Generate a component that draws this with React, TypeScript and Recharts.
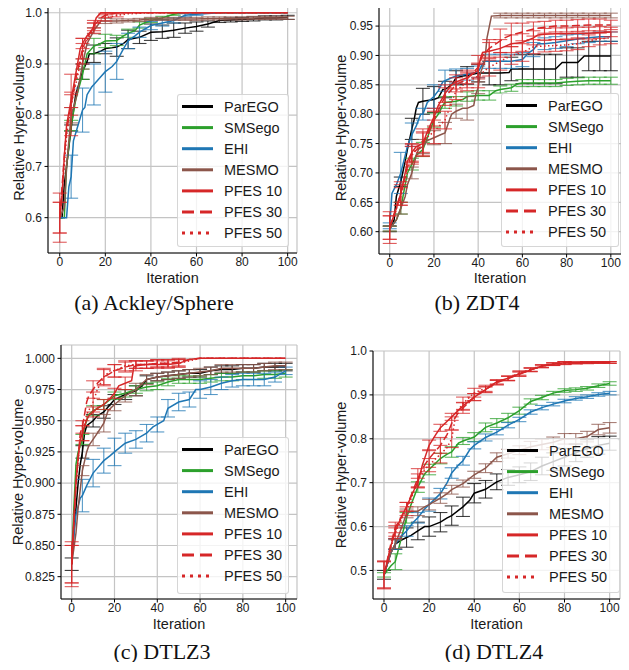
import React from "react";
import { LineChart, Line, XAxis, YAxis, CartesianGrid, ErrorBar, Label } from "recharts";

// [iteration, mean relative hyper-volume, error half-height (optional)]
type Pt = [number, number, number?];

// ---------- (a) Ackley/Sphere ----------
const A_PAREGO: Pt[] = [[0,0.6],[1,0.6],[2,0.665],[3,0.7],[5,0.775,0.006],[7,0.84],[9,0.87],[10,0.885,0.015],[12,0.905],[13,0.92],[15,0.92,0.017],[18,0.925],[20,0.93,0.01],[25,0.933,0.018],[28,0.94],[30,0.948,0.018],[35,0.952,0.012],[40,0.962,0.016],[45,0.963,0.013],[50,0.966,0.014],[55,0.97,0.01],[60,0.973,0.009],[65,0.978,0.006],[70,0.985,0.004],[75,0.986,0.004],[80,0.987,0.004],[85,0.988,0.004],[90,0.99,0.004],[95,0.99,0.004],[100,0.991,0.004]];
const A_SMSEGO: Pt[] = [[0,0.6],[2,0.6],[3,0.7],[5,0.78,0.01],[7,0.83],[10,0.88,0.01],[12,0.92],[15,0.935,0.015],[18,0.94],[20,0.945,0.013],[25,0.946,0.01],[28,0.955],[30,0.96,0.008],[33,0.965],[35,0.976,0.006],[40,0.985,0.004],[45,0.99,0.003],[50,0.997,0.002],[55,1.0],[100,1.0]];
const A_EHI: Pt[] = [[0,0.6],[3,0.6],[4,0.66],[5,0.68,0.042],[6,0.75],[8,0.78],[10,0.81,0.043],[11,0.815],[12,0.84],[14,0.855],[15,0.86,0.04],[18,0.875],[20,0.885,0.04],[23,0.895],[25,0.905,0.035],[28,0.93],[30,0.945,0.015],[33,0.955],[35,0.962,0.01],[40,0.975,0.008],[45,0.98,0.006],[50,0.985,0.005],[55,0.995,0.003],[60,0.997,0.002],[70,1.0],[100,1.0]];
const A_MESMO: Pt[] = [[0,0.6],[2,0.62],[3,0.7],[5,0.8,0.015],[7,0.83],[8,0.85],[10,0.9,0.01],[12,0.94],[15,0.965,0.006],[18,0.984],[20,0.984,0.005],[25,0.984,0.004],[30,0.985,0.003],[35,0.986,0.003],[40,0.988,0.003],[45,0.988,0.003],[50,0.988,0.003],[55,0.988,0.003],[60,0.988,0.003],[65,0.989,0.003],[70,0.989,0.003],[75,0.989,0.003],[80,0.989,0.003],[85,0.99,0.003],[90,0.99,0.003],[95,0.99,0.003],[100,0.99,0.003]];
const A_PFES10: Pt[] = [[0,0.6,0.048],[1,0.64],[2,0.72],[3,0.78],[5,0.83,0.015],[7,0.88],[9,0.93],[10,0.94,0.01],[12,0.955],[14,0.965],[15,0.975,0.005],[16,0.99],[18,1.0],[100,1.0]];
const A_PFES30: Pt[] = [[0,0.6,0.03],[2,0.72],[3,0.77],[5,0.82,0.06],[7,0.87],[10,0.93,0.02],[12,0.95],[15,0.975,0.01],[18,0.99],[20,0.995,0.004],[25,1.0],[100,1.0]];
const A_PFES50: Pt[] = [[0,0.6,0.03],[2,0.7],[3,0.76],[5,0.82,0.02],[7,0.86],[10,0.92,0.02],[12,0.945],[15,0.97,0.01],[18,0.985],[20,0.99,0.006],[25,0.995,0.003],[30,0.998],[40,1.0],[100,1.0]];

// ---------- (b) ZDT4 ----------
const B_PAREGO: Pt[] = [[0,0.605,0.005],[2,0.62],[3,0.66],[5,0.685,0.008],[7,0.72],[8,0.74],[10,0.775,0.018],[11,0.79],[12,0.81],[13,0.82],[15,0.822,0.022],[20,0.825,0.022],[22,0.828],[24,0.842],[25,0.842,0.014],[28,0.85],[30,0.862,0.012],[33,0.865],[35,0.866,0.015],[40,0.87,0.015],[45,0.87,0.02],[50,0.87,0.02],[54,0.871],[55,0.877,0.02],[60,0.877,0.025],[65,0.877,0.025],[70,0.877,0.025],[75,0.877,0.025],[78,0.888],[80,0.888,0.025],[85,0.888,0.025],[88,0.899],[90,0.899,0.025],[95,0.899,0.025],[100,0.899,0.025]];
const B_SMSEGO: Pt[] = [[0,0.605,0.004],[3,0.62],[5,0.64,0.01],[7,0.68],[8,0.7],[10,0.715,0.01],[12,0.73],[15,0.74,0.012],[17,0.76],[18,0.77],[20,0.79,0.012],[22,0.8],[24,0.815],[25,0.82,0.01],[30,0.822,0.008],[33,0.825],[35,0.83,0.008],[40,0.832,0.008],[45,0.832,0.008],[48,0.84],[50,0.842,0.006],[55,0.845,0.006],[58,0.852],[60,0.853,0.006],[65,0.853,0.006],[70,0.853,0.006],[75,0.853,0.006],[80,0.855,0.006],[85,0.856,0.006],[90,0.857,0.006],[95,0.857,0.006],[100,0.857,0.006]];
const B_EHI: Pt[] = [[0,0.61,0.005],[1,0.665],[3,0.68],[5,0.7,0.035],[7,0.73],[8,0.745],[10,0.765,0.02],[12,0.78],[14,0.8],[15,0.8,0.01],[17,0.82],[20,0.83,0.02],[22,0.84],[24,0.855],[25,0.857,0.018],[28,0.862],[30,0.865,0.012],[35,0.868,0.01],[40,0.872,0.01],[42,0.885],[43,0.89],[45,0.89,0.012],[50,0.89,0.012],[55,0.89,0.012],[60,0.893,0.012],[63,0.905],[65,0.91,0.012],[67,0.92],[70,0.92,0.01],[75,0.922,0.01],[80,0.925,0.01],[85,0.928,0.008],[90,0.93,0.008],[95,0.932,0.008],[100,0.932,0.008]];
const B_MESMO: Pt[] = [[0,0.605,0.004],[3,0.62],[5,0.64,0.01],[7,0.66],[8,0.68],[10,0.7,0.01],[12,0.73],[13,0.74],[15,0.745,0.012],[17,0.755],[20,0.76,0.012],[23,0.765],[25,0.768,0.018],[27,0.79],[28,0.8],[30,0.805,0.012],[33,0.81],[35,0.81,0.02],[38,0.815],[39,0.835],[40,0.845,0.01],[41,0.87],[43,0.89],[44,0.93],[46,0.967],[50,0.968,0.004],[55,0.968,0.004],[60,0.968,0.004],[65,0.968,0.004],[70,0.968,0.004],[75,0.968,0.004],[80,0.968,0.004],[85,0.968,0.004],[90,0.968,0.004],[95,0.968,0.004],[100,0.968,0.004]];
const B_PFES10: Pt[] = [[0,0.607,0.027],[3,0.64],[5,0.665,0.02],[7,0.7],[8,0.72],[10,0.735,0.015],[12,0.745],[15,0.75,0.02],[17,0.77],[20,0.795,0.015],[22,0.815],[25,0.835,0.015],[28,0.85],[30,0.855,0.012],[35,0.862,0.01],[40,0.875,0.012],[41,0.895],[42,0.905],[45,0.907,0.015],[50,0.912,0.015],[55,0.92,0.015],[60,0.922,0.015],[65,0.93,0.012],[67,0.935],[70,0.936,0.01],[75,0.937,0.01],[80,0.937,0.01],[85,0.938,0.01],[90,0.938,0.01],[95,0.939,0.01],[100,0.94,0.008]];
const B_PFES30: Pt[] = [[0,0.607,0.02],[5,0.665,0.015],[8,0.71],[10,0.733,0.015],[15,0.748,0.02],[20,0.79,0.015],[25,0.83,0.015],[30,0.85,0.012],[35,0.86,0.015],[40,0.88,0.02],[42,0.9],[45,0.912,0.015],[50,0.925,0.02],[52,0.93],[55,0.935,0.02],[60,0.94,0.015],[65,0.945,0.012],[70,0.948,0.01],[75,0.95,0.01],[80,0.95,0.01],[85,0.951,0.01],[90,0.952,0.01],[95,0.952,0.01],[100,0.952,0.008]];
const B_PFES50: Pt[] = [[0,0.607,0.02],[5,0.66,0.015],[10,0.73,0.015],[15,0.755,0.02],[20,0.77,0.02],[25,0.79,0.015],[28,0.82],[30,0.84,0.015],[35,0.855,0.015],[40,0.865,0.02],[45,0.88,0.015],[50,0.89,0.015],[55,0.9,0.015],[60,0.905,0.015],[65,0.915,0.012],[70,0.916,0.01],[75,0.917,0.01],[80,0.918,0.01],[85,0.92,0.01],[90,0.925,0.01],[95,0.928,0.01],[100,0.93,0.01]];

// ---------- (c) DTLZ3 ----------
const C_PAREGO: Pt[] = [[0,0.835,0.005],[1,0.86],[2,0.88],[3,0.9],[4,0.915],[5,0.925,0.005],[6,0.94],[7,0.946],[10,0.95,0.005],[12,0.954],[15,0.957,0.005],[18,0.963],[20,0.967,0.004],[25,0.971,0.004],[30,0.974,0.004],[33,0.978],[35,0.983,0.003],[40,0.985,0.003],[45,0.986,0.003],[50,0.987,0.003],[55,0.988,0.003],[60,0.988,0.003],[65,0.99,0.003],[70,0.991,0.003],[75,0.991,0.003],[80,0.992,0.003],[85,0.992,0.003],[90,0.993,0.003],[95,0.993,0.003],[100,0.993,0.003]];
const C_SMSEGO: Pt[] = [[0,0.84],[1,0.88],[2,0.915],[3,0.925],[5,0.935,0.004],[6,0.945],[8,0.955],[10,0.958,0.004],[15,0.963,0.004],[18,0.967],[20,0.97,0.003],[25,0.972,0.003],[30,0.975,0.003],[35,0.977,0.003],[40,0.978,0.003],[45,0.981,0.003],[50,0.983,0.003],[55,0.983,0.003],[60,0.983,0.003],[65,0.984,0.003],[70,0.985,0.003],[75,0.985,0.003],[80,0.986,0.003],[85,0.986,0.003],[90,0.987,0.003],[95,0.987,0.003],[100,0.988,0.003]];
const C_EHI: Pt[] = [[0,0.84],[2,0.875],[4,0.888],[5,0.89,0.013],[7,0.898],[10,0.908,0.011],[12,0.912],[15,0.918,0.01],[18,0.922],[20,0.925,0.011],[25,0.932,0.008],[30,0.935,0.007],[35,0.94,0.007],[38,0.945],[40,0.947,0.006],[43,0.95],[45,0.96,0.007],[50,0.965,0.007],[55,0.967,0.006],[58,0.975],[60,0.975,0.007],[65,0.977,0.006],[70,0.98,0.005],[75,0.982,0.005],[80,0.983,0.005],[85,0.983,0.005],[90,0.983,0.005],[95,0.985,0.004],[100,0.99,0.003]];
const C_MESMO: Pt[] = [[0,0.835],[2,0.86],[3,0.88],[5,0.91,0.004],[7,0.925],[8,0.93],[10,0.935,0.005],[12,0.94],[15,0.948,0.007],[17,0.958],[20,0.963,0.005],[25,0.97,0.005],[30,0.975,0.005],[33,0.98],[35,0.983,0.004],[40,0.985,0.003],[45,0.986,0.003],[50,0.987,0.003],[55,0.988,0.003],[60,0.989,0.003],[65,0.99,0.003],[70,0.992,0.003],[75,0.992,0.003],[80,0.992,0.003],[85,0.992,0.003],[90,0.993,0.003],[95,0.994,0.003],[100,0.994,0.003]];
const C_PFES10: Pt[] = [[0,0.835,0.018],[1,0.87],[2,0.9],[3,0.92],[4,0.935],[5,0.94,0.006],[7,0.951],[8,0.954],[10,0.957,0.004],[12,0.96],[15,0.963,0.004],[18,0.968],[20,0.972,0.004],[22,0.978],[25,0.98,0.005],[28,0.982],[29,0.993],[30,0.994,0.004],[35,0.995,0.003],[40,0.995,0.003],[45,0.995,0.003],[50,0.996,0.003],[55,0.999],[60,1.0],[100,1.0]];
const C_PFES30: Pt[] = [[0,0.835,0.015],[2,0.9],[4,0.94],[5,0.945,0.005],[7,0.965],[8,0.97],[10,0.975,0.007],[12,0.98],[15,0.985,0.006],[18,0.988],[20,0.99,0.005],[25,0.993,0.004],[30,0.995,0.003],[35,0.995,0.003],[40,0.996,0.003],[45,0.996,0.003],[50,0.997,0.003],[55,0.999],[60,1.0],[100,1.0]];
const C_PFES50: Pt[] = [[0,0.835,0.015],[2,0.9],[4,0.935],[5,0.94,0.006],[7,0.955],[10,0.965,0.008],[12,0.975],[15,0.985,0.007],[18,0.99],[20,0.99,0.005],[25,0.994,0.004],[30,0.995,0.003],[35,0.995,0.003],[40,0.996,0.003],[45,0.996,0.003],[50,0.996,0.003],[55,0.998],[60,1.0],[100,1.0]];

// ---------- (d) DTLZ4 ----------
const D_PAREGO: Pt[] = [[0,0.49,0.01],[3,0.54],[5,0.56,0.012],[8,0.57],[10,0.575,0.022],[12,0.58],[15,0.59,0.02],[18,0.6],[20,0.6,0.022],[25,0.61,0.022],[28,0.62],[30,0.625,0.022],[35,0.645,0.022],[38,0.66],[40,0.676,0.022],[45,0.685,0.02],[50,0.702,0.018],[55,0.712,0.018],[60,0.718,0.018],[65,0.725,0.02],[70,0.738,0.02],[75,0.748,0.02],[80,0.758,0.02],[85,0.768,0.02],[90,0.778,0.02],[95,0.785,0.02],[100,0.79,0.016]];
const D_SMSEGO: Pt[] = [[0,0.49,0.005],[3,0.51],[5,0.52,0.018],[7,0.56],[8,0.58],[10,0.62,0.012],[12,0.65],[15,0.69,0.012],[18,0.72],[20,0.73,0.012],[25,0.755,0.012],[28,0.765],[30,0.77,0.012],[33,0.79],[35,0.795,0.008],[40,0.804,0.01],[45,0.826,0.01],[50,0.836,0.01],[55,0.848,0.01],[60,0.864,0.008],[65,0.885,0.006],[70,0.894,0.005],[75,0.904,0.004],[80,0.91,0.004],[85,0.912,0.004],[90,0.915,0.004],[95,0.921,0.004],[100,0.926,0.004]];
const D_EHI: Pt[] = [[0,0.49],[3,0.54],[5,0.56,0.012],[8,0.58],[10,0.59,0.012],[13,0.61],[15,0.62,0.012],[18,0.64],[20,0.65,0.015],[25,0.675,0.012],[28,0.7],[30,0.722,0.012],[33,0.74],[35,0.75,0.01],[38,0.775],[40,0.785,0.008],[45,0.803,0.008],[50,0.815,0.006],[55,0.831,0.006],[60,0.844,0.005],[65,0.861,0.005],[70,0.871,0.005],[75,0.879,0.004],[80,0.886,0.004],[85,0.892,0.004],[90,0.896,0.004],[95,0.901,0.004],[100,0.904,0.004]];
const D_MESMO: Pt[] = [[0,0.49],[3,0.54],[5,0.56,0.01],[8,0.6],[10,0.63,0.01],[12,0.635],[15,0.635,0.01],[18,0.645],[20,0.65,0.012],[25,0.665,0.012],[28,0.675],[30,0.684,0.01],[35,0.698,0.008],[40,0.718,0.008],[45,0.733,0.01],[50,0.758,0.01],[55,0.766,0.01],[60,0.774,0.01],[65,0.782,0.012],[70,0.787,0.012],[75,0.792,0.012],[80,0.8,0.012],[85,0.8,0.012],[90,0.805,0.012],[95,0.821,0.012],[100,0.825,0.012]];
const D_PFES10: Pt[] = [[0,0.49,0.032],[3,0.555],[5,0.59,0.012],[8,0.625],[10,0.645,0.01],[13,0.68],[15,0.7,0.01],[17,0.74],[20,0.785,0.012],[23,0.81],[25,0.825,0.008],[28,0.84],[30,0.85,0.008],[35,0.875,0.008],[40,0.895,0.008],[45,0.912,0.006],[50,0.93,0.005],[55,0.938,0.005],[60,0.948,0.005],[65,0.957,0.004],[70,0.966,0.003],[75,0.97,0.003],[80,0.973,0.003],[85,0.973,0.002],[90,0.973,0.002],[95,0.974,0.002],[100,0.974,0.002]];
const D_PFES30: Pt[] = [[0,0.49,0.03],[3,0.56],[5,0.598,0.012],[8,0.625],[10,0.645,0.01],[15,0.71,0.022],[18,0.74],[20,0.755,0.02],[25,0.785,0.018],[28,0.81],[30,0.835,0.015],[33,0.86],[35,0.87,0.012],[40,0.895,0.008],[45,0.912,0.007],[50,0.928,0.005],[55,0.937,0.005],[60,0.947,0.005],[65,0.957,0.004],[70,0.965,0.003],[75,0.97,0.003],[80,0.973,0.003],[85,0.973,0.002],[90,0.974,0.002],[95,0.974,0.002],[100,0.974,0.002]];
const D_PFES50: Pt[] = [[0,0.49,0.03],[3,0.55],[5,0.585,0.012],[8,0.62],[10,0.635,0.01],[15,0.705,0.015],[18,0.73],[20,0.74,0.015],[25,0.765,0.02],[28,0.78],[30,0.8,0.02],[32,0.86],[35,0.88,0.015],[40,0.905,0.01],[45,0.915,0.007],[50,0.928,0.005],[55,0.938,0.005],[60,0.95,0.005],[65,0.958,0.004],[70,0.965,0.003],[75,0.97,0.003],[80,0.972,0.003],[85,0.973,0.002],[90,0.974,0.002],[95,0.974,0.002],[100,0.974,0.002]];

const SERIES_NAMES = ["ParEGO", "SMSego", "EHI", "MESMO", "PFES 10", "PFES 30", "PFES 50"];
const X_TICKS = [0, 20, 40, 60, 80, 100];
const A_Y_TICKS = [0.6, 0.7, 0.8, 0.9, 1.0];
const B_Y_TICKS = [0.6, 0.65, 0.7, 0.75, 0.8, 0.85, 0.9, 0.95];
const C_Y_TICKS = [0.825, 0.85, 0.875, 0.9, 0.925, 0.95, 0.975, 1.0];
const D_Y_TICKS = [0.5, 0.6, 0.7, 0.8, 0.9, 1.0];

const COLORS = ["#000000", "#2ca02c", "#1f77b4", "#8c564b", "#d62728", "#d62728", "#d62728"];
const DASH = [undefined, undefined, undefined, undefined, undefined, "8 3.5", "1.5 2.5"];
const LEGEND_DASH = [undefined, undefined, undefined, undefined, undefined, "12 6", "3 5"];

const FONT = "'Liberation Sans', Arial, Helvetica, sans-serif";
const TXT = "#1a1a1a";

const PANELS = [
  { series: [A_PAREGO, A_SMSEGO, A_EHI, A_MESMO, A_PFES10, A_PFES30, A_PFES50], box: [48, 2, 297, 253], chartLeft: 0, chartBottom: 290, xDomain: [-5.15, 104.1], yDomain: [0.531, 1.021], yTicks: A_Y_TICKS, dec: 1, yLabelX: 19, xLabelY: 283, legend: [177, 94, 112, 153] },
  { series: [B_PAREGO, B_SMSEGO, B_EHI, B_MESMO, B_PFES10, B_PFES30, B_PFES50], box: [379, 2, 621, 254], chartLeft: 322, chartBottom: 290, xDomain: [-4.85, 104.6], yDomain: [0.562, 0.991], yTicks: B_Y_TICKS, dec: 2, yLabelX: 341, xLabelY: 283, legend: [501, 93, 118, 154] },
  { series: [C_PAREGO, C_SMSEGO, C_EHI, C_MESMO, C_PFES10, C_PFES30, C_PFES50], box: [61, 345, 297, 599], chartLeft: 0, chartBottom: 637, xDomain: [-5.0, 105.3], yDomain: [0.8071, 1.0107], yTicks: C_Y_TICKS, dec: 3, yLabelX: 18, xLabelY: 629, legend: [177, 437, 112, 157] },
  { series: [D_PAREGO, D_SMSEGO, D_EHI, D_MESMO, D_PFES10, D_PFES30, D_PFES50], box: [373, 351, 620, 599], chartLeft: 322, chartBottom: 637, xDomain: [-4.87, 104.6], yDomain: [0.435, 1.0], yTicks: D_Y_TICKS, dec: 1, yLabelX: 341, xLabelY: 629, legend: [502, 438, 118, 155] },
];

const CAPTIONS = [
  { text: "(a) Ackley/Sphere", x: 154, y: 310 },
  { text: "(b) ZDT4", x: 477, y: 310 },
  { text: "(c) DTLZ3", x: 162, y: 659 },
  { text: "(d) DTLZ4", x: 494, y: 659 },
];

const toRows = (pts: Pt[]) => pts.map(([x, y, e]) => ({ x, y, e }));

function Panel({ cfg }: { cfg: any }) {
  const [x0, y0, x1, y1] = cfg.box;
  const left = cfg.chartLeft;
  const top = Math.max(0, y0 - 6);
  const mt = y0 - top;
  const width = x1 + 4 - left;
  const height = cfg.chartBottom - top;
  const xAxisH = height - mt - (y1 - y0);
  const tick = { fontSize: 12, fill: TXT, fontFamily: FONT };
  return (
    <div style={{ position: "absolute", left, top }}>
      <LineChart width={width} height={height} margin={{ top: mt, right: 4, left: 0, bottom: 0 }}>
        <CartesianGrid stroke="#c4c4c4" strokeWidth={1.2} />
        <XAxis dataKey="x" type="number" domain={cfg.xDomain} allowDataOverflow ticks={X_TICKS} interval={0}
          height={xAxisH} tickSize={3.5} tickMargin={1} stroke="#000" tick={tick}>
          <Label content={() => (
            <text x={(x0 + x1) / 2 - left} y={cfg.xLabelY - top} textAnchor="middle" fontSize={14.5} fontFamily={FONT} fill={TXT}>Iteration</text>
          )} />
        </XAxis>
        <YAxis type="number" domain={cfg.yDomain} allowDataOverflow ticks={cfg.yTicks} interval={0}
          width={x0 - left} tickSize={3.5} tickMargin={2.5} stroke="#000" tick={tick}
          tickFormatter={(v: number) => v.toFixed(cfg.dec)}>
          <Label content={() => {
            const cx = cfg.yLabelX - left;
            const cy = (y0 + y1) / 2 - top;
            return (
              <text x={cx} y={cy} transform={`rotate(-90 ${cx} ${cy})`} textAnchor="middle" dominantBaseline="central"
                fontSize={14.5} fontFamily={FONT} fill={TXT}>Relative Hyper-volume</text>
            );
          }} />
        </YAxis>
        <XAxis xAxisId="top" orientation="top" type="number" domain={cfg.xDomain} allowDataOverflow height={0} tick={false} tickLine={false} stroke="#000" />
        <YAxis yAxisId="right" orientation="right" type="number" domain={cfg.yDomain} allowDataOverflow width={0} tick={false} tickLine={false} stroke="#000" />
        {cfg.series.map((pts: Pt[], i: number) => (
          <Line key={SERIES_NAMES[i]} name={SERIES_NAMES[i]} data={toRows(pts)} dataKey="y" type="linear"
            stroke={COLORS[i]} strokeWidth={1.5} strokeDasharray={DASH[i]} dot={false} isAnimationActive={false}>
            <ErrorBar dataKey="e" direction="y" width={7} stroke={COLORS[i]} strokeWidth={1.1} strokeOpacity={0.75} />
          </Line>
        ))}
      </LineChart>
    </div>
  );
}

function LegendBox({ rect }: { rect: number[] }) {
  const [l, t, w, h] = rect;
  return (
    <div style={{ position: "absolute", left: l, top: t, width: w, height: h, boxSizing: "border-box",
      background: "rgba(255,255,255,0.8)", border: "1px solid rgba(204,204,204,0.8)", borderRadius: 3 }}>
      <svg width={w - 2} height={h - 2} style={{ display: "block" }}>
        {SERIES_NAMES.map((n, i) => {
          const y = 11.5 + i * 21.1;
          return (
            <g key={n}>
              <line x1={4} x2={35} y1={y} y2={y} stroke={COLORS[i]} strokeWidth={3} strokeDasharray={LEGEND_DASH[i]} />
              <text x={46} y={y} dominantBaseline="central" fontSize={14.5} fontFamily={FONT} fill={TXT}>{n}</text>
            </g>
          );
        })}
      </svg>
    </div>
  );
}

export default function App() {
  return (
    <div style={{ position: "relative", width: 629, height: 670, margin: -8, background: "#fff", overflow: "hidden" }}>
      {PANELS.map((p, i) => <Panel key={i} cfg={p} />)}
      {PANELS.map((p, i) => <LegendBox key={"l" + i} rect={p.legend} />)}
      <svg width={629} height={670} style={{ position: "absolute", left: 0, top: 0, pointerEvents: "none" }}>
        {CAPTIONS.map((c) => (
          <text key={c.text} x={c.x} y={c.y} textAnchor="middle" fontSize={22} fontFamily="'Liberation Serif', 'Times New Roman', serif" fill="#111">{c.text}</text>
        ))}
      </svg>
    </div>
  );
}
